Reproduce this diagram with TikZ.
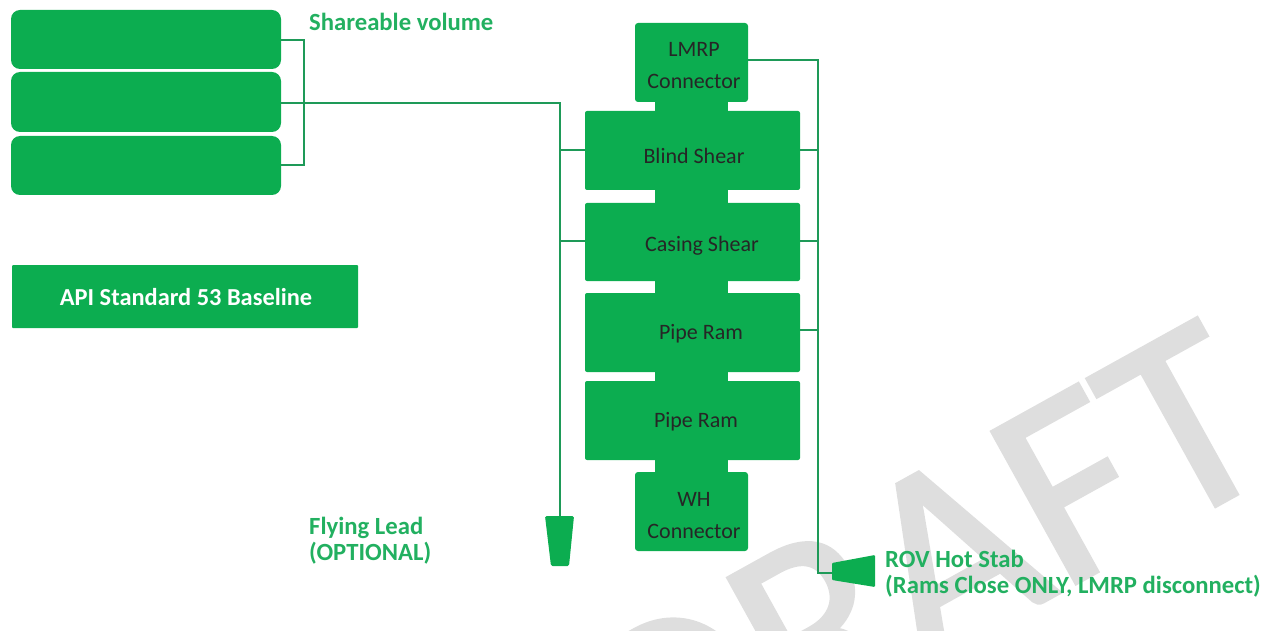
\documentclass[tikz,border=0pt]{standalone}
\usepackage{fontspec}
\setmainfont{Carlito}
\newfontfamily\wmfont[RawFeature={embolden=1.5}]{Carlito}
\usetikzlibrary{calc}
\definecolor{boxgreen}{HTML}{0CAD50}
\definecolor{linegreen}{HTML}{1E9A58}
\definecolor{labelgreen}{HTML}{22B060}
\definecolor{wm}{HTML}{DEDEDE}
\tikzset{
  x=1pt,y=-1pt,
  gbox/.style={fill=boxgreen,draw=none,rounded corners=#1,inner sep=0pt},
  gbox/.default=2pt,
  conn/.style={draw=linegreen,line width=1.6pt},
  lab/.style={anchor=west,text=labelgreen,font=\fontsize{24.7}{26}\selectfont\bfseries,align=left,inner sep=0pt},
  boxtext/.style={font=\fontsize{22}{32}\selectfont,text=black!85,align=center,inner sep=0pt},
}
\newcommand{\bx}[6][2pt]{\node[gbox=#1,minimum width=#4pt-#3pt,minimum height=#6pt-#5pt] (#2) at ({(#3+#4)/2},{(#5+#6)/2}) {};}
\begin{document}
\begin{tikzpicture}
\useasboundingbox (0,0) rectangle (1269,631);
\begin{scope}
\clip (0,0) rectangle (1269,631);
\node[text=wm,font=\wmfont\fontsize{270}{270}\selectfont,rotate=29,inner sep=0pt] (wmk) at (925,568) {DRAFT};
\end{scope}
% stacks
\bx[9pt]{a}{11}{281}{10}{69}
\bx[9pt]{b}{11}{281}{72}{132}
\bx[9pt]{c}{11}{281}{136}{195}
\bx[1pt]{api}{12}{358}{265}{328}
\node[text=white,font=\fontsize{24.4}{26}\selectfont\bfseries,inner sep=0pt] (apit) at (186,297) {API Standard 53 Baseline};
\fill[boxgreen] (655,100) rectangle (728,473);
\bx[3pt]{lmrp}{635}{748}{23}{102}
\bx[2pt]{blind}{585}{800}{111}{190}
\bx[2pt]{casing}{585}{800}{203}{281}
\bx[2pt]{pipea}{585}{800}{293}{372}
\bx[2pt]{pipeb}{585}{800}{381}{460}
\bx[3pt]{wh}{635}{748}{472}{551}
\node[boxtext] (t1) at (694,66) {LMRP\\Connector};
\node[boxtext] (t2) at (694,156) {Blind Shear};
\node[boxtext] (t3) at (702,246) {Casing Shear};
\node[boxtext] (t4) at (701,334) {Pipe Ram};
\node[boxtext] (t5) at (696,422) {Pipe Ram};
\node[boxtext] (t6) at (694,516) {WH\\Connector};
% end pieces
\fill[boxgreen,rounded corners=1.5pt] (545,516) -- (574,516) -- (569,566) -- (551,566) -- cycle;
\coordinate (lead) at (560,516);
\fill[boxgreen,rounded corners=1pt] (832,563) -- (875,555) -- (875,587) -- (832,580) -- cycle;
\coordinate (stab) at (832,573);
% connectors
\draw[conn] (a.east|-0,40) -- (304,40) -- (304,165) -- (c.east|-0,165);
\draw[conn] (b.east|-0,103) -- (560,103) -- (lead);
\draw[conn] (560,150) -- (blind.west|-0,150);
\draw[conn] (560,241) -- (casing.west|-0,241);
\draw[conn] (lmrp.east|-0,60) -- (818,60) -- (818,573) -- (stab);
\draw[conn] (blind.east|-0,150) -- (818,150);
\draw[conn] (casing.east|-0,241) -- (818,241);
\draw[conn] (pipea.east|-0,330) -- (818,330);
% labels
\node[lab] (l1) at (309,22) {Shareable volume};
\node[lab] (l2) at (309,541) {Flying Lead\\(OPTIONAL)};
\node[lab] (l3) at (885,574) {ROV Hot Stab\\(Rams Close ONLY, LMRP disconnect)};
\end{tikzpicture}
\end{document}
